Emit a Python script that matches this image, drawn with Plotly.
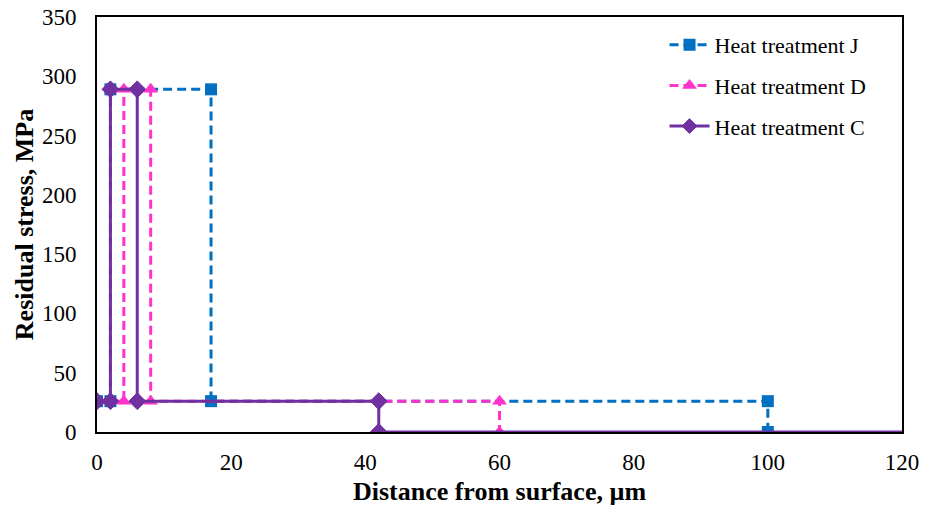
import plotly.graph_objects as go

# Data
j_x = [0, 2, 2, 17, 17, 100, 100]
j_y = [26, 26, 289, 289, 26, 26, 0]
d_x = [0, 4, 4, 8, 8, 60, 60]
d_y = [26, 26, 289, 289, 26, 26, 0]
c_x = [0, 2, 2, 6, 6, 42, 42, 120]
c_y = [26, 26, 289, 289, 26, 26, 0, 0]
names = ["Heat treatment J", "Heat treatment D", "Heat treatment C"]
x_ticks = [0, 20, 40, 60, 80, 100, 120]
y_ticks = [0, 50, 100, 150, 200, 250, 300, 350]

font_family = "Liberation Serif, Times New Roman, serif"

fig = go.Figure()
fig.add_trace(go.Scatter(
    x=j_x, y=j_y, name=names[0], mode="lines+markers", legendgroup="j",
    line=dict(color="#0070C0", width=3, dash="9px,5px"),
    marker=dict(symbol="square", size=12, color="#0070C0", opacity=1, line=dict(width=0)),
))
fig.add_trace(go.Scatter(
    x=d_x, y=d_y, name=names[1], mode="lines+markers", legendgroup="d",
    line=dict(color="#FF33CC", width=3, dash="9px,5px"),
    marker=dict(symbol="triangle-up", size=13, color="#FF33CC", opacity=1, line=dict(width=0)),
))
c_sizes = [13] * (len(c_x) - 1) + [0]
fig.add_trace(go.Scatter(
    x=c_x, y=c_y, name=names[2], mode="lines+markers", legendgroup="c",
    line=dict(color="#7030A0", width=3),
    marker=dict(symbol="diamond", size=c_sizes, color="#7030A0", opacity=1,
                line=dict(width=1, color="#7030A0")),
))

fig.update_layout(
    width=926, height=514,
    margin=dict(l=97, r=24, t=17, b=82),
    paper_bgcolor="white", plot_bgcolor="white",
    font=dict(family=font_family, size=23, color="black"),
    showlegend=True,
    legend=dict(
        x=0.705, y=0.983, xanchor="left", yanchor="top",
        bgcolor="rgba(0,0,0,0)", font=dict(size=22),
        itemwidth=40, traceorder="grouped", tracegroupgap=9,
    ),
)
fig.update_xaxes(
    range=[0, 120], tickvals=x_ticks, showgrid=False, zeroline=False,
    showline=True, linecolor="black", linewidth=2, mirror=True, automargin=False,
    ticks="", ticklabelstandoff=8, ticklabeloverflow="allow",
    title=dict(text="<b>Distance from surface, µm</b>", font=dict(size=26), standoff=8),
)
fig.update_yaxes(
    range=[0, 350], tickvals=y_ticks, showgrid=False, zeroline=False,
    showline=True, linecolor="black", linewidth=2, mirror=True, automargin=False,
    ticks="", ticklabelstandoff=14, ticklabeloverflow="allow",
    title=dict(text="<b>Residual stress, MPa</b>", font=dict(size=26), standoff=1),
)

# remove the page's default body margin so the figure fills the window exactly
fig.write_html("out.html", config={"displayModeBar": False},
               post_script="document.body.style.margin='0px';")
